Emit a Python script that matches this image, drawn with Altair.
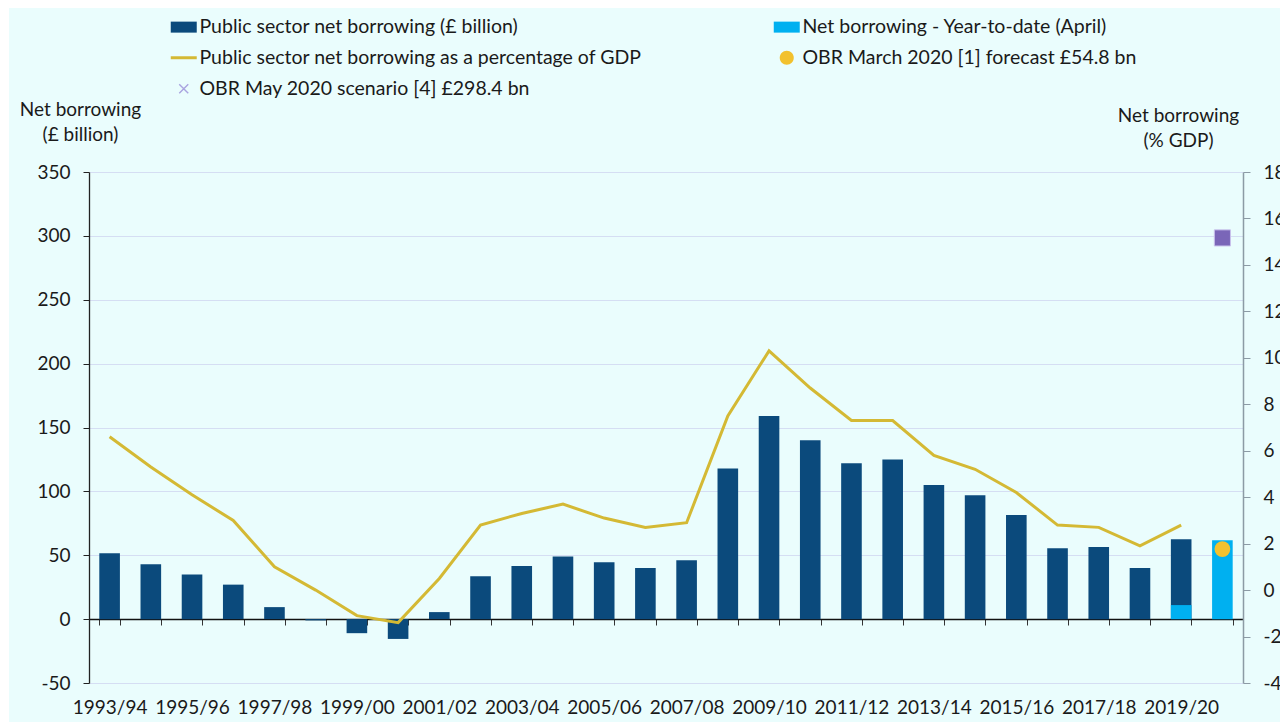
import altair as alt
import pandas as pd

# ---------------- data ----------------
years = ["1993/94", "1994/95", "1995/96", "1996/97", "1997/98", "1998/99", "1999/00",
         "2000/01", "2001/02", "2002/03", "2003/04", "2004/05", "2005/06", "2006/07",
         "2007/08", "2008/09", "2009/10", "2010/11", "2011/12", "2012/13", "2013/14",
         "2014/15", "2015/16", "2016/17", "2017/18", "2018/19", "2019/20", "2020/21"]
psnb_bn = [51.5, 43.0, 35.0, 27.0, 9.4, -1.0, -11.0, -15.5, 5.5, 33.5, 41.5, 49.0, 44.5, 40.0,
           46.0, 118.0, 159.0, 140.0, 122.0, 125.0, 105.0, 97.0, 81.5, 55.5, 56.5, 40.0, 62.5, None]
ytd_bn = [None] * 26 + [11.0, 61.8]
psnb_pct_gdp = [6.6, 5.3, 4.1, 3.0, 1.0, 0.0, -1.1, -1.4, 0.5, 2.8, 3.3, 3.7, 3.1, 2.7,
                2.9, 7.5, 10.3, 8.7, 7.3, 7.3, 5.8, 5.2, 4.2, 2.8, 2.7, 1.9, 2.8, None]
forecast_year = ["2020/21"]
obr_march_bn = [54.8]
obr_may_bn = [298.4]

# legend entries (column-major order of the two-column legend)
legend_labels = ["Public sector net borrowing (£ billion)",
                 "Public sector net borrowing as a percentage of GDP",
                 "OBR May 2020 scenario [4] £298.4 bn",
                 "Net borrowing - Year-to-date (April)",
                 "OBR March 2020 [1] forecast £54.8 bn"]

# ---------------- styles ----------------
NAVY = "#0B4A7C"
LIGHT = "#00B0F0"
GOLD = "#D4B934"
ORANGE = "#F2C12E"
PURPLE = "#7A66B8"
LAVENDER = "#A9A4E0"
CYAN = "#EAFDFD"
FONT = "Lato"
TXT = "#1A1A1A"
HYPHEN_MINUS = "replace(datum.label, '\u2212', '-')"

legend_colors = [NAVY, GOLD, LAVENDER, LIGHT, ORANGE]
d = 0.1
a = 0.9
cross = (f"M{-a+d},{-a-d}L{a+d},{a-d}L{a-d},{a+d}L{-a-d},{-a+d}Z"
         f"M{a+d},{-a+d}L{-a+d},{a+d}L{-a-d},{a-d}L{a-d},{-a-d}Z")
rect_sym = "M-2.6,-1.1H2.6V1.1H-2.6Z"
line_sym = "M-2.6,-0.3H2.6V0.3H-2.6Z"
dot_sym = "M-1.4,0A1.4,1.4 0 1,0 1.4,0A1.4,1.4 0 1,0 -1.4,0Z"
legend_shapes = [rect_sym, line_sym, cross, rect_sym, dot_sym]

df = pd.DataFrame({"year": years, "psnb": psnb_bn, "ytd": ytd_bn, "pct": psnb_pct_gdp})
pts_march = pd.DataFrame({"year": forecast_year, "v": obr_march_bn})
pts_may = pd.DataFrame({"year": forecast_year, "v": obr_may_bn})
leg_df = pd.DataFrame({"series": legend_labels})

W, H = 1154, 511

x_enc = alt.X(
    "year:N", sort=years,
    scale=alt.Scale(paddingInner=0.5, paddingOuter=0.25),
    axis=alt.Axis(
        title=None, orient="bottom", offset=-64, labelAngle=0,
        labelExpr="toNumber(substring(datum.label, 0, 4)) % 2 == 1 ? datum.label : ''",
        labelOverlap=False, labelPadding=73, labelFontSize=19, labelFont=FONT,
        labelColor=TXT, tickBand="extent", tickSize=6, tickColor="#333",
        domainColor="#111", domainWidth=1.5, grid=False,
    ),
)

y_left = alt.Y(
    "psnb:Q",
    scale=alt.Scale(domain=[-50, 350], nice=False),
    axis=alt.Axis(
        values=list(range(-50, 351, 50)), title=["Net borrowing", "(£ billion)"],
        labelExpr=HYPHEN_MINUS,
        titleAngle=0, titleAlign="center", titleBaseline="alphabetic",
        titleX=-9, titleY=-57, titleFontSize=19, titleFont=FONT, titleFontWeight="normal",
        titleColor=TXT, titleLineHeight=25,
        labelFontSize=19, labelFont=FONT, labelColor=TXT, labelPadding=13,
        tickSize=6, tickColor="#222", domainColor="#222", domainWidth=1.3,
        grid=True, gridColor="#D5DEF3", gridWidth=1.2,
    ),
)

# white margin strips at the top and left edge of the picture
strip_df = pd.DataFrame({"part": ["top", "left"]})
strip_top = alt.Chart(strip_df).mark_rect(color="white").encode(
    x=alt.value(-89), x2=alt.value(1191), y=alt.value(-172), y2=alt.value(-164)
).transform_filter(alt.datum.part == "top")
strip_left = alt.Chart(strip_df).mark_rect(color="white").encode(
    x=alt.value(-89), x2=alt.value(-80), y=alt.value(-172), y2=alt.value(550)
).transform_filter(alt.datum.part == "left")

bars = alt.Chart(df).mark_bar(color=NAVY).encode(
    x=x_enc, y=y_left, y2=alt.datum(0)
)
bars_ytd = alt.Chart(df).mark_bar(color=LIGHT).encode(
    x=x_enc, y=alt.Y("ytd:Q"), y2=alt.datum(0)
)
pt_may = alt.Chart(pts_may).mark_point(
    shape="square", filled=True, color=PURPLE, size=260, opacity=1,
    stroke="#C9C2EC", strokeWidth=1
).encode(x=x_enc, y=alt.Y("v:Q"))
pt_march = alt.Chart(pts_march).mark_point(
    shape="circle", filled=True, color=ORANGE, size=250, opacity=1
).encode(x=x_enc, y=alt.Y("v:Q"))

legend_layer = alt.Chart(leg_df).mark_point(filled=True, opacity=1, size=100).encode(
    x=alt.value(-3000), y=alt.value(-3000),
    color=alt.Color("series:N", scale=alt.Scale(domain=legend_labels, range=legend_colors),
                    legend=alt.Legend(title=None)),
    shape=alt.Shape("series:N", scale=alt.Scale(domain=legend_labels, range=legend_shapes),
                    legend=alt.Legend(title=None)),
)

left = alt.layer(strip_top, strip_left, bars, bars_ytd, pt_march, pt_may, legend_layer)

line = alt.Chart(df).mark_line(color=GOLD, strokeWidth=3).encode(
    x=x_enc,
    y=alt.Y(
        "pct:Q",
        scale=alt.Scale(domain=[-4, 18], nice=False),
        axis=alt.Axis(
            orient="right", values=list(range(-4, 19, 2)), title=["Net borrowing", "(% GDP)"],
            labelExpr=HYPHEN_MINUS,
            titleAngle=0, titleAlign="center", titleBaseline="alphabetic",
            titleX=-65, titleY=-51, titleFontSize=19, titleFont=FONT, titleFontWeight="normal",
            titleColor=TXT, titleLineHeight=25,
            labelFontSize=19, labelFont=FONT, labelColor=TXT, labelPadding=13,
            tickSize=7, tickColor="#8C9BA5", domainColor="#8C9BA5", domainWidth=1.5, grid=False,
        ),
    ),
)

chart = alt.layer(left, line).resolve_scale(y="independent").properties(
    width=W, height=H,
    autosize=alt.AutoSizeParams(type="none"),
    padding={"left": 89, "top": 172, "right": 37, "bottom": 39},
    background=CYAN,
).configure_view(stroke=None).configure_legend(
    orient="none", legendX=85, legendY=-155, columns=2, columnPadding=131,
    rowPadding=10, padding=0, labelFontSize=19.5, labelFont=FONT, labelColor=TXT,
    symbolSize=100, symbolStrokeWidth=0, labelOffset=6, labelLimit=0,
)

chart.save("out.html", embed_options={"renderer": "svg", "actions": False})
